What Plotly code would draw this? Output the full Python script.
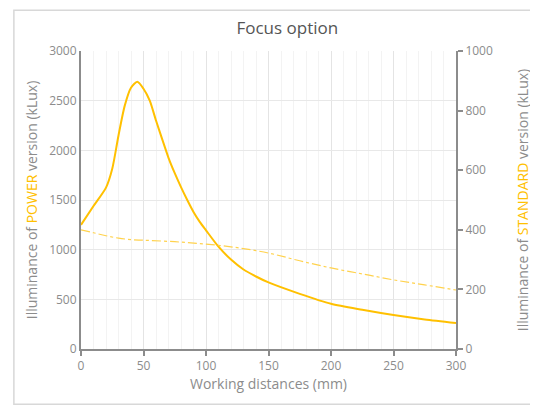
import plotly.graph_objects as go

# POWER version (left axis, kLux)
power_x = [0, 10, 20, 25, 30, 35, 40, 45, 50, 55, 60, 65, 70, 75, 80, 85, 90, 95,
           100, 110, 120, 130, 140, 150, 175, 200, 225, 250, 275, 300]
power_y = [1250, 1440, 1625, 1815, 2150, 2450, 2630, 2690, 2620, 2500, 2300, 2110,
           1925, 1770, 1630, 1500, 1380, 1280, 1195, 1030, 900, 800, 730, 670, 555, 455, 395,
           342, 298, 262]

# STANDARD version (right axis, kLux)
std_x = [0, 10, 20, 30, 40, 50, 75, 100, 125, 150, 175, 200, 225, 250, 275, 300]
std_y = [400, 390, 380, 372, 367, 365, 360, 352, 340, 322, 296, 272, 252, 232, 215, 198]

gold = '#FFC000'
grey = '#8c8c8c'
font = 'Open Sans'

fig = go.Figure()
fig.add_trace(go.Scatter(x=power_x, y=power_y, mode='lines',
                         line=dict(color=gold, width=2, shape='spline', smoothing=0.7),
                         showlegend=False))
fig.add_trace(go.Scatter(x=std_x, y=std_y, mode='lines', yaxis='y2',
                         line=dict(color='#FFD24D', width=1.2, dash='dashdot', shape='spline'),
                         showlegend=False))

# the page body adds an 8px offset, so the figure is 8px smaller than the window
fig.update_layout(
    width=530, height=397,
    margin=dict(l=73, r=82, t=43, b=56),
    paper_bgcolor='white', plot_bgcolor='white',
    font=dict(family=font, color=grey, size=12),
    title=dict(text='Focus option', x=0.527, xanchor='center', y=0.95, yanchor='middle',
               font=dict(size=17, color='#555555', family=font)),
    xaxis=dict(range=[0, 300], tickvals=[0, 50, 100, 150, 200, 250, 300], automargin=False,
               showgrid=True, gridcolor='#e4e4e4', gridwidth=1,
               minor=dict(dtick=10, showgrid=True, gridcolor='#f3f3f3'),
               showline=True, linecolor=grey, linewidth=2,
               ticks='outside', ticklen=5, tickcolor=grey, tickwidth=2,
               title=dict(text='Working distances (mm)', font=dict(size=14, color=grey), standoff=6),
               zeroline=False),
    yaxis=dict(range=[0, 3000], dtick=500, showgrid=True, gridcolor='#e8e8e8', automargin=False,
               showline=True, linecolor=grey, linewidth=2, ticks='', zeroline=False,
               title=dict(text="Illuminance of <span style='color:#FFC000'>POWER</span> version (kLux)",
                          font=dict(size=14, color=grey), standoff=8)),
    yaxis2=dict(range=[0, 1000], dtick=200, overlaying='y', side='right', showgrid=False,
                automargin=False,
                showline=True, linecolor=grey, linewidth=2, ticks='outside', ticklen=5,
                tickcolor=grey, tickwidth=2, zeroline=False,
                title=dict(text="Illuminance of <span style='color:#FFC000'>STANDARD</span> version (kLux)",
                           font=dict(size=14, color=grey), standoff=26)),
)

# card frame around the chart
fig.add_shape(type='rect', xref='paper', yref='paper', x0=-0.179, x1=1.3, y0=-0.185, y1=1.137,
              line=dict(color='#d8d8d8', width=1.5), layer='below')

fig.write_html('out.html')
